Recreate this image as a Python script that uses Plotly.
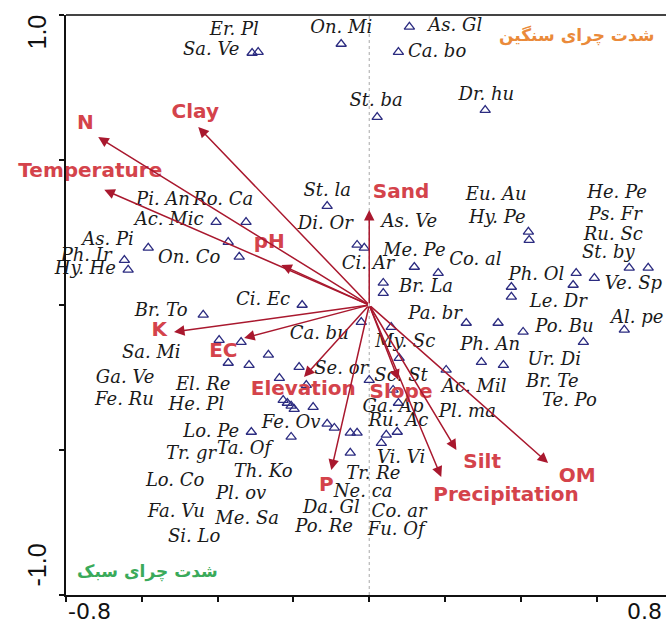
import plotly.graph_objects as go

# ---- Environmental variables (biplot arrow tips, axis 1 / axis 2) ----
env_names = ["N", "Clay", "Temperature", "pH", "Sand", "K", "EC",
             "Elevation", "Slope", "P", "Silt", "Precipitation", "OM"]
env_x = [-0.715, -0.451, -0.699, -0.232, 0.000, -0.515, -0.330,
         -0.172, 0.077, -0.100, 0.230, 0.190, 0.472]
env_y = [0.579, 0.614, 0.397, 0.138, 0.328, -0.093, -0.114,
         -0.248, -0.259, -0.569, -0.500, -0.593, -0.545]
# label anchor points for the arrow names
env_lab_x = [-0.749, -0.459, -0.736, -0.264, 0.084, -0.554, -0.385,
             -0.174, 0.084, -0.113, 0.298, 0.361, 0.549]
env_lab_y = [0.624, 0.662, 0.459, 0.214, 0.386, -0.090, -0.162,
             -0.293, -0.303, -0.624, -0.545, -0.659, -0.593]

# ---- Species scores (triangles) ----
sp_x = [-0.309, -0.293, -0.074, 0.106, 0.077, 0.021, 0.306,
        -0.404, -0.325, -0.372, -0.343, -0.583, -0.646, -0.636,
        -0.177, -0.111, -0.032, -0.013, 0.119, 0.182, 0.037, 0.037,
        0.420, 0.422, 0.375, 0.375, 0.546, 0.538, 0.594, 0.686, 0.736,
        -0.438, -0.396, -0.338, -0.266, -0.372, -0.317, -0.237, -0.185,
        -0.166, -0.227, -0.216, -0.206, -0.198, -0.148, -0.311, -0.206,
        -0.111, -0.092, -0.050, -0.032, -0.050, -0.021, 0.058, 0.256,
        0.340, 0.406, 0.673, 0.565, 0.079, 0.203, 0.296, 0.354, 0.000,
        0.063, 0.077, 0.045, 0.074, 0.032]
sp_y = [0.869, 0.872, 0.900, 0.959, 0.872, 0.648, 0.672,
        0.286, 0.286, 0.217, 0.166, 0.197, 0.155, 0.121,
        0.000, 0.341, 0.207, 0.197, 0.131, 0.110, 0.076, 0.041,
        0.252, 0.224, 0.062, 0.028, 0.110, 0.069, 0.093, 0.128, 0.128,
        -0.034, -0.121, -0.128, -0.172, -0.200, -0.207, -0.252, -0.214,
        -0.276, -0.328, -0.338, -0.348, -0.359, -0.352, -0.438, -0.455,
        -0.410, -0.424, -0.441, -0.441, -0.510, -0.059, -0.076, -0.062,
        -0.062, -0.093, -0.086, -0.128, -0.183, -0.224, -0.197, -0.207, -0.259,
        -0.293, -0.338, -0.448, -0.438, -0.476]

# ---- Species name labels ----
sp_names = ["Er. Pl", "Sa. Ve", "On. Mi", "As. Gl", "Ca. bo", "St. ba", "Dr. hu",
            "Pi. An", "Ro. Ca", "Ac. Mic", "As. Pi", "Ph. Ir", "Hy. He", "On. Co",
            "St. la", "Di. Or", "Ci. Ec", "Br. To", "As. Ve", "Me. Pe", "Ci. Ar",
            "Co. al", "Br. La", "Eu. Au", "Hy. Pe", "Ph. Ol", "Le. Dr", "He. Pe",
            "Ps. Fr", "Ru. Sc", "St. by", "Ve. Sp", "Al. pe", "Pa. br", "Po. Bu",
            "My. Sc", "Ph. An", "Ur. Di", "Br. Te", "Te. Po", "Sc. St", "Se. or",
            "Ca. bu", "Ac. Mil", "Ga. Ap", "Pl. ma", "Ru. Ac", "Vi. Vi", "Tr. Re",
            "Ne. ca", "Da. Gl", "Co. ar", "Po. Re", "Fu. Of", "Sa. Mi", "Ga. Ve",
            "El. Re", "Fe. Ru", "He. Pl", "Lo. Pe", "Fe. Ov", "Tr. gr", "Ta. Of",
            "Lo. Co", "Th. Ko", "Pl. ov", "Fa. Vu", "Me. Sa", "Si. Lo"]
sp_lab_x = [-0.356, -0.417, -0.074, 0.227, 0.179, 0.018, 0.309,
            -0.544, -0.385, -0.528, -0.689, -0.747, -0.749, -0.475,
            -0.111, -0.116, -0.280, -0.549, 0.106, 0.119, -0.003,
            0.280, 0.150, 0.335, 0.338, 0.441, 0.499, 0.654,
            0.649, 0.644, 0.631, 0.697, 0.707, 0.174, 0.515,
            0.095, 0.319, 0.488, 0.483, 0.528, 0.084, -0.074,
            -0.132, 0.277, 0.063, 0.259, 0.077, 0.084, 0.011,
            -0.016, -0.100, 0.079, -0.119, 0.071, -0.575, -0.644,
            -0.438, -0.646, -0.456, -0.417, -0.206, -0.470, -0.330,
            -0.512, -0.280, -0.338, -0.509, -0.322, -0.462]
sp_lab_y = [0.948, 0.879, 0.955, 0.962, 0.872, 0.703, 0.721,
            0.362, 0.362, 0.290, 0.221, 0.166, 0.121, 0.162,
            0.393, 0.276, 0.014, -0.024, 0.283, 0.183, 0.138,
            0.155, 0.059, 0.379, 0.300, 0.103, 0.007, 0.386,
            0.310, 0.241, 0.176, 0.069, -0.045, -0.034, -0.076,
            -0.131, -0.138, -0.190, -0.266, -0.334, -0.245, -0.221,
            -0.103, -0.286, -0.352, -0.369, -0.400, -0.528, -0.586,
            -0.645, -0.700, -0.717, -0.766, -0.779, -0.166, -0.252,
            -0.276, -0.328, -0.345, -0.441, -0.410, -0.517, -0.497,
            -0.610, -0.576, -0.655, -0.717, -0.741, -0.800]

x_ticks = [-0.8, -0.6, -0.4, -0.2, 0.0, 0.2, 0.4, 0.6, 0.8]
y_ticks = [-1.0, -0.5, 0.0, 0.5, 1.0]

ARROW_COLOR = "#A9182E"
ENV_TEXT = "#D4434B"
SP_COLOR = "#2B2B80"

fig = go.Figure()

# species triangles
fig.add_trace(go.Scatter(
    x=sp_x, y=sp_y, mode="markers",
    marker=dict(symbol="triangle-up-open", size=9, color=SP_COLOR,
                line=dict(width=1.3, color=SP_COLOR)),
    hoverinfo="skip", showlegend=False))

# species names
fig.add_trace(go.Scatter(
    x=sp_lab_x, y=sp_lab_y, mode="text", text=sp_names,
    textposition="middle center",
    textfont=dict(family="DejaVu Serif", size=18, color="#1a1a1a", style="italic"),
    hoverinfo="skip", showlegend=False, cliponaxis=False))

# environmental variable names
fig.add_trace(go.Scatter(
    x=env_lab_x, y=env_lab_y, mode="text", text=env_names,
    textposition="middle center",
    textfont=dict(family="DejaVu Sans", size=20, color=ENV_TEXT, weight="bold"),
    hoverinfo="skip", showlegend=False, cliponaxis=False))

annotations = []
# biplot arrows from the origin
for ex, ey in zip(env_x, env_y):
    annotations.append(dict(
        x=ex, y=ey, ax=0, ay=0, xref="x", yref="y", axref="x", ayref="y",
        text="", showarrow=True, arrowhead=2, arrowsize=1.4, arrowwidth=1.5,
        arrowcolor=ARROW_COLOR, standoff=0, startstandoff=0))

# axis end labels
annotations += [
    dict(x=-0.8, y=0, xref="x", yref="paper", text="-0.8", showarrow=False,
         xanchor="left", yanchor="bottom", yshift=-31,
         font=dict(family="DejaVu Sans", size=22, color="#111")),
    dict(x=1.0, y=0, xref="paper", yref="paper", text="0.8", showarrow=False,
         xanchor="right", yanchor="bottom", yshift=-31, xshift=-2,
         font=dict(family="DejaVu Sans", size=22, color="#111")),
    dict(x=0, y=1.0, xref="paper", yref="y", text="1.0", showarrow=False,
         textangle=-90, xanchor="right", yanchor="top", xshift=-14, yshift=2,
         font=dict(family="Liberation Sans", size=25, color="#111")),
    dict(x=0, y=-1.0, xref="paper", yref="y", text="-1.0", showarrow=False,
         textangle=-90, xanchor="right", yanchor="bottom", xshift=-14, yshift=6,
         font=dict(family="Liberation Sans", size=25, color="#111")),
    # grazing-intensity captions
    dict(x=0.85, y=0.965, xref="paper", yref="paper", text="شدت چرای سنگین",
         showarrow=False, xanchor="center", yanchor="middle",
         font=dict(family="DejaVu Sans", size=17, color="#EA8A3A", weight="bold")),
    dict(x=0.135, y=0.04, xref="paper", yref="paper", text="شدت چرای سبک",
         showarrow=False, xanchor="center", yanchor="middle",
         font=dict(family="DejaVu Sans", size=17, color="#3AAA5A", weight="bold")),
]

shapes = [
    # dotted reference line at axis-1 = 0
    dict(type="line", xref="x", yref="paper", x0=0, x1=0, y0=0, y1=1,
         line=dict(color="#A8A8A8", width=1, dash="dot"), layer="below"),
    # top frame line
    dict(type="line", xref="paper", yref="paper", x0=0, x1=1, y0=1, y1=1,
         line=dict(color="#444444", width=2)),
]

fig.update_layout(
    width=666, height=626,
    margin=dict(l=66, r=0, t=15, b=31),
    paper_bgcolor="white", plot_bgcolor="white",
    annotations=annotations, shapes=shapes,
    xaxis=dict(range=[-0.8, 0.783], showgrid=False, zeroline=False,
               showline=True, linecolor="#111", linewidth=2,
               tickvals=x_ticks, ticks="outside", ticklen=5, tickwidth=1.5,
               tickcolor="#111", showticklabels=False),
    yaxis=dict(range=[-1.0, 1.0], showgrid=False, zeroline=False,
               showline=True, linecolor="#111", linewidth=2,
               tickvals=y_ticks, ticks="outside", ticklen=5, tickwidth=1.5,
               tickcolor="#111", showticklabels=False),
)

fig.write_html("out.html")
